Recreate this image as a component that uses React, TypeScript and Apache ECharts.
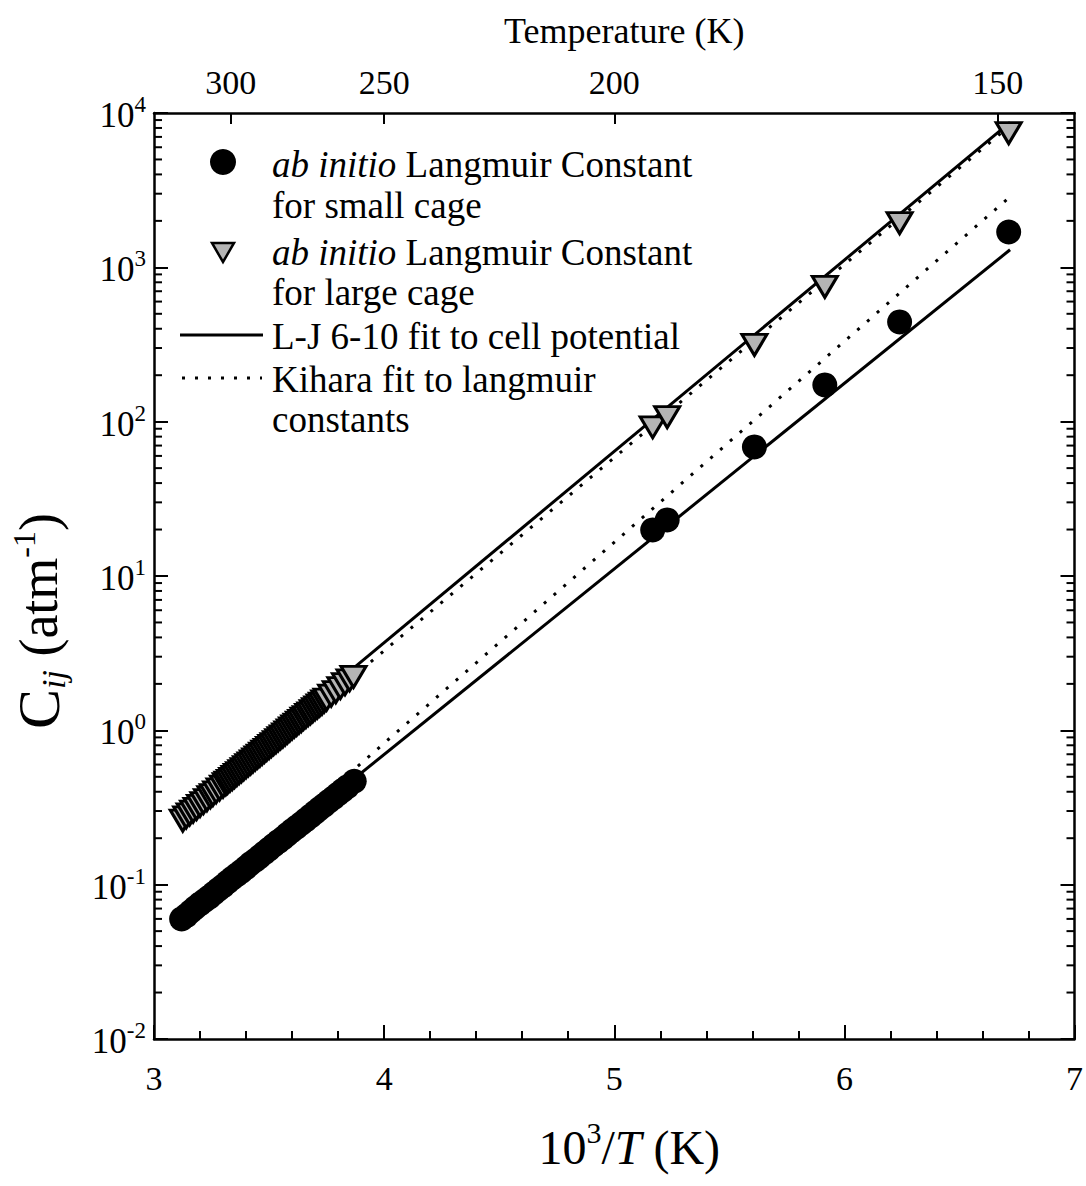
import React, { useEffect, useRef } from 'react';
import * as echarts from 'echarts';

const FONT = 'Liberation Serif';

// x: 10^3/T (1/K), y: C_ij (1/atm)
// dense high-temperature data, small cage
const clusterSmallX = [3.12, 3.14, 3.16, 3.18, 3.2, 3.22, 3.24, 3.26, 3.28, 3.3, 3.32, 3.34, 3.36, 3.38, 3.4, 3.42, 3.44, 3.46, 3.48, 3.5, 3.52, 3.54, 3.56, 3.58, 3.6, 3.62, 3.64, 3.66, 3.68, 3.7, 3.72, 3.74, 3.76, 3.78, 3.8, 3.82, 3.84, 3.87];
const clusterSmallC = [0.06, 0.063, 0.067, 0.071, 0.075, 0.079, 0.083, 0.088, 0.093, 0.098, 0.104, 0.11, 0.116, 0.122, 0.129, 0.137, 0.144, 0.152, 0.161, 0.17, 0.18, 0.19, 0.2, 0.212, 0.224, 0.236, 0.249, 0.263, 0.278, 0.294, 0.311, 0.328, 0.347, 0.366, 0.387, 0.408, 0.431, 0.468];
// dense high-temperature data, large cage
const clusterLargeX = [
  3.125, 3.14, 3.155, 3.17, 3.185, 3.2, 3.215, 3.23, 3.245, 3.256, 3.27, 3.285, 3.3, 3.312,
  3.32, 3.33, 3.34, 3.35, 3.36, 3.37, 3.38, 3.39, 3.4, 3.41, 3.42, 3.43, 3.44, 3.45, 3.46, 3.47,
  3.48, 3.49, 3.5, 3.51, 3.52, 3.53, 3.54, 3.55, 3.56, 3.57, 3.58, 3.59, 3.6, 3.61, 3.62, 3.63,
  3.64, 3.65, 3.66, 3.67, 3.68, 3.69, 3.7, 3.71, 3.72, 3.73, 3.74,
  3.75, 3.77, 3.79, 3.81, 3.83, 3.85, 3.867,
];
const clusterLargeC = [
  0.26, 0.273, 0.285, 0.297, 0.31, 0.324, 0.338, 0.353, 0.369, 0.381, 0.397, 0.414, 0.432, 0.448,
  0.458, 0.471, 0.485, 0.499, 0.514, 0.529, 0.544, 0.561, 0.577, 0.594, 0.611, 0.629, 0.648, 0.667, 0.686, 0.706,
  0.727, 0.748, 0.77, 0.793, 0.815, 0.839, 0.863, 0.889, 0.914, 0.942, 0.969, 0.998, 1.03, 1.06, 1.09, 1.12,
  1.15, 1.19, 1.22, 1.26, 1.29, 1.33, 1.37, 1.41, 1.45, 1.49, 1.54,
  1.58, 1.68, 1.77, 1.88, 1.99, 2.11, 2.22,
];
// low-temperature points
const lowTX = [5.167, 5.23, 5.609, 5.915, 6.24, 6.714];
const lowTSmallC = [19.9, 23.1, 68.6, 173, 443, 1694];
const lowTLargeC = [92, 107, 314, 747, 1936, 7400];
// fitted curves
const fitX = [3.12, 6.72];
const ljSmallC = [0.061, 1300];
const kiharaSmallC = [0.059, 2870];
const ljLargeC = [0.3, 8700];
const kiharaLargeC = [0.26, 8300];
// axes
const temperatureTicks = [300, 250, 200, 150];
const yDecades = [-2, -1, 0, 1, 2, 3, 4];
const minorMultipliers = [2, 3, 4, 5, 6, 7, 8, 9];

const zip = (xs: number[], ys: number[]) => xs.map((x, i) => [x, ys[i]]);

const GRID = { left: 153, top: 113, width: 923, height: 926 };

export default function App() {
  const ref = useRef<HTMLDivElement>(null);
  useEffect(() => {
    document.body.style.margin = '0';
    if (!ref.current) return;
    const chart = echarts.init(ref.current, undefined, { renderer: 'svg' });

    const minorY: number[] = [];
    yDecades.slice(0, -1).forEach((d) => minorMultipliers.forEach((m) => minorY.push(m * Math.pow(10, d))));

    const tickLabelStyle = { fontFamily: FONT, fontSize: 34, color: '#000' };
    const axisLineStyle = { color: '#000', width: 2.5 };
    const LEG = 37;

    const legendText = (x: number, y: number, text: string) => ({
      type: 'text',
      x,
      y,
      style: {
        text,
        fontFamily: FONT,
        fontSize: LEG,
        fill: '#000',
        verticalAlign: 'middle',
        align: 'left',
        rich: { i: { fontFamily: FONT, fontSize: LEG, fontStyle: 'italic', fill: '#000' } },
      },
    });

    const option: any = {
      animation: false,
      backgroundColor: '#fff',
      grid: { ...GRID, containLabel: false },
      xAxis: [
        {
          type: 'value',
          position: 'bottom',
          min: 3,
          max: 7,
          interval: 1,
          axisLine: { show: true, onZero: false, lineStyle: axisLineStyle },
          axisTick: { show: true, inside: true, length: 14, lineStyle: { color: '#000', width: 2 } },
          minorTick: { show: true, splitNumber: 5, length: 8, lineStyle: { color: '#000', width: 2 } },
          splitLine: { show: false },
          axisLabel: { ...tickLabelStyle, margin: 22 },
          name: '{n|10}{s|3}{n|/}{i|T}{n| (K)}',
          nameLocation: 'middle',
          nameGap: 78,
          nameTextStyle: {
            fontFamily: FONT,
            color: '#000',
            padding: [0, 0, 0, 30],
            rich: {
              n: { fontFamily: FONT, fontSize: 48, color: '#000', verticalAlign: 'bottom', lineHeight: 54 },
              i: { fontFamily: FONT, fontSize: 48, fontStyle: 'italic', color: '#000', verticalAlign: 'bottom', lineHeight: 54 },
              s: { fontFamily: FONT, fontSize: 30, color: '#000', verticalAlign: 'top', lineHeight: 32 },
            },
          },
        },
        {
          type: 'value',
          position: 'top',
          min: 3,
          max: 7,
          axisLine: { show: true, onZero: false, lineStyle: axisLineStyle },
          axisTick: {
            show: true,
            inside: true,
            length: 11,
            lineStyle: { color: '#000', width: 2 },
            customValues: temperatureTicks.map((t) => 1000 / t),
          },
          splitLine: { show: false },
          axisLabel: {
            ...tickLabelStyle,
            margin: 14,
            customValues: temperatureTicks.map((t) => 1000 / t),
            formatter: (v: number) => String(Math.round(1000 / v)),
          },
          name: 'Temperature (K)',
          nameLocation: 'middle',
          nameGap: 64,
          nameTextStyle: { fontFamily: FONT, fontSize: 36, color: '#000', padding: [0, 0, 0, 20] },
        },
      ],
      yAxis: [
        {
          type: 'log',
          logBase: 10,
          position: 'left',
          min: 0.01,
          max: 10000,
          axisLine: { show: true, onZero: false, lineStyle: axisLineStyle },
          axisTick: { show: true, inside: true, length: 14, lineStyle: { color: '#000', width: 2 } },
          splitLine: { show: false },
          axisLabel: {
            margin: 8,
            formatter: (v: number) => `{b|10}{s|${Math.round(Math.log10(v))}}`,
            rich: {
              b: { fontFamily: FONT, fontSize: 35, color: '#000', verticalAlign: 'bottom', lineHeight: 40 },
              s: { fontFamily: FONT, fontSize: 23, color: '#000', verticalAlign: 'top', lineHeight: 22 },
            },
          },
          name: '{c|C}{sub|ij}{n| (atm}{sup|-1}{n|)}',
          nameLocation: 'middle',
          nameGap: 84,
          nameRotate: 90,
          nameTextStyle: {
            fontFamily: FONT,
            color: '#000',
            padding: [0, 90, 0, 0],
            rich: {
              c: { fontFamily: FONT, fontSize: 60, color: '#000', verticalAlign: 'middle', lineHeight: 62 },
              n: { fontFamily: FONT, fontSize: 54, color: '#000', verticalAlign: 'middle', lineHeight: 62 },
              sub: { fontFamily: FONT, fontSize: 34, fontStyle: 'italic', color: '#000', verticalAlign: 'bottom', lineHeight: 34 },
              sup: { fontFamily: FONT, fontSize: 32, color: '#000', verticalAlign: 'top', lineHeight: 32 },
            },
          },
        },
        {
          type: 'log',
          logBase: 10,
          position: 'right',
          min: 0.01,
          max: 10000,
          axisLine: { show: true, onZero: false, lineStyle: axisLineStyle },
          axisTick: { show: true, inside: true, length: 14, lineStyle: { color: '#000', width: 2 } },
          splitLine: { show: false },
          axisLabel: { show: false },
        },
      ],
      graphic: [
        { type: 'circle', shape: { cx: 223, cy: 162, r: 13 }, style: { fill: '#000' } },
        legendText(272, 164, '{i|ab initio} Langmuir Constant'),
        legendText(272, 205, 'for small cage'),
        {
          type: 'polygon',
          shape: { points: [[212, 243], [234, 243], [223, 262]] },
          style: { fill: '#b4b4b4', stroke: '#000', lineWidth: 2.5 },
        },
        legendText(272, 252, '{i|ab initio} Langmuir Constant'),
        legendText(272, 292, 'for large cage'),
        { type: 'line', shape: { x1: 180, y1: 335, x2: 263, y2: 335 }, style: { stroke: '#000', lineWidth: 3 } },
        legendText(272, 336, 'L-J 6-10 fit to cell potential'),
        {
          type: 'line',
          shape: { x1: 182, y1: 378, x2: 262, y2: 378 },
          style: { stroke: '#000', lineWidth: 3, lineDash: [3, 10] },
        },
        legendText(272, 379, 'Kihara fit to langmuir'),
        legendText(272, 419, 'constants'),
      ],
      series: [
        {
          name: 'minor ticks',
          type: 'custom',
          xAxisIndex: 0,
          yAxisIndex: 0,
          silent: true,
          z: 5,
          data: minorY.map((v) => [3, v]),
          renderItem: (params: any, api: any) => {
            const cs = params.coordSys;
            const y = api.coord([3, api.value(1)])[1];
            const st = { stroke: '#000', lineWidth: 2 };
            return {
              type: 'group',
              children: [
                { type: 'line', shape: { x1: cs.x, y1: y, x2: cs.x + 8, y2: y }, style: st },
                { type: 'line', shape: { x1: cs.x + cs.width - 8, y1: y, x2: cs.x + cs.width, y2: y }, style: st },
              ],
            };
          },
        },
        {
          name: 'L-J 6-10 fit (small cage)',
          type: 'line',
          data: zip(fitX, ljSmallC),
          showSymbol: false,
          symbol: 'none',
          lineStyle: { color: '#000', width: 3 },
          z: 2,
        },
        {
          name: 'L-J 6-10 fit (large cage)',
          type: 'line',
          data: zip(fitX, ljLargeC),
          showSymbol: false,
          symbol: 'none',
          lineStyle: { color: '#000', width: 3 },
          z: 2,
        },
        {
          name: 'Kihara fit (small cage)',
          type: 'line',
          data: zip(fitX, kiharaSmallC),
          showSymbol: false,
          symbol: 'none',
          lineStyle: { color: '#000', width: 3, type: [3, 10] },
          z: 2,
        },
        {
          name: 'Kihara fit (large cage)',
          type: 'line',
          data: zip(fitX, kiharaLargeC),
          showSymbol: false,
          symbol: 'none',
          lineStyle: { color: '#000', width: 3, type: [3, 10] },
          z: 2,
        },
        {
          name: 'ab initio small cage',
          type: 'scatter',
          data: [...zip(clusterSmallX, clusterSmallC), ...zip(lowTX, lowTSmallC)],
          symbol: 'circle',
          symbolSize: 25,
          itemStyle: { color: '#000', opacity: 1 },
          z: 3,
        },
        {
          name: 'ab initio large cage',
          type: 'scatter',
          data: [...zip(clusterLargeX, clusterLargeC), ...zip(lowTX, lowTLargeC)],
          symbol: 'triangle',
          symbolRotate: 180,
          symbolSize: [25, 21],
          itemStyle: { color: '#b4b4b4', borderColor: '#000', borderWidth: 3, opacity: 1 },
          z: 4,
        },
      ],
    };

    chart.setOption(option);
    return () => chart.dispose();
  }, []);

  return <div ref={ref} style={{ width: 1086, height: 1186 }} />;
}
